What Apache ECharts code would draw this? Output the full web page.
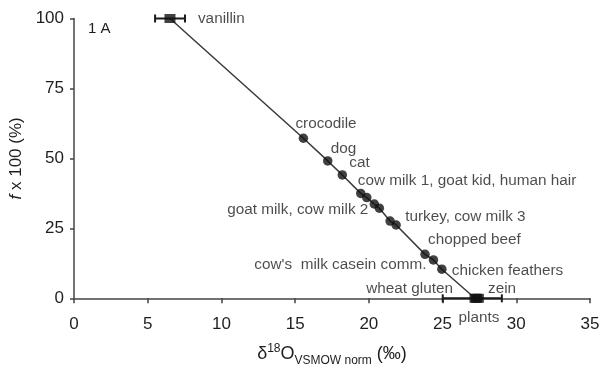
<!DOCTYPE html>
<html>
<head>
<meta charset="utf-8">
<script src="https://cdn.jsdelivr.net/npm/echarts@6/dist/echarts.min.js"></script>
<style>
html,body{margin:0;padding:0;background:#fff;}
#c{width:602px;height:366px;}
</style>
</head>
<body>
<div id="c"></div>
<script>
// ---- data ----
const sampleNames = ['crocodile','dog','cat','cow milk 1','goat kid/human hair','goat milk','cow milk 2','turkey','cow milk 3','chopped beef','casein comm.','chicken feathers'];
const sampleX = [15.56, 17.21, 18.20, 19.45, 19.86, 20.37, 20.71, 21.44, 21.85, 23.81, 24.38, 24.95];
const sampleY = [57.2, 49.1, 44.1, 37.5, 36.0, 33.7, 32.2, 27.6, 26.2, 15.7, 13.7, 10.4];
const endNames = ['vanillin','plants','plants','plants'];
const endX = [6.51, 27.2, 27.3, 27.43];
const endY = [100, 0, 0, 0];
const errX = [6.51, 27.3];
const errY = [100, 0];
const errLow = [5.50, 25.01];
const errHigh = [7.53, 29.02];
const xTickMin = 0, xTickMax = 35, xTickStep = 5;
const yTickMin = 0, yTickMax = 100, yTickStep = 25;
const labelTexts = ['vanillin','crocodile','dog','cat','cow milk 1, goat kid, human hair','goat milk, cow milk 2','turkey, cow milk 3','chopped beef',"cow's  milk casein comm.",'chicken feathers','wheat gluten','zein','plants'];
// anchor: [group, index]
const labelAnchors = [['e',0],['s',0],['s',1],['s',2],['s',3],['s',5],['s',8],['s',9],['s',10],['s',11],['e',1],['e',1],['e',1]];
// ---- style (pixel offsets from anchor point) ----
const labelStyle = [
  {dx:28, dy:0, align:'left'},
  {dx:-8, dy:-14, align:'left'},
  {dx:3, dy:-12, align:'left'},
  {dx:7, dy:-12, align:'left'},
  {dx:-3, dy:-13, align:'left'},
  {dx:-6, dy:6, align:'right'},
  {dx:9, dy:-8, align:'left'},
  {dx:3, dy:-15, align:'left'},
  {dx:-7, dy:5, align:'right'},
  {dx:10, dy:2, align:'left'},
  {dx:-22, dy:-10, align:'right'},
  {dx:13, dy:-10, align:'left'},
  {dx:4, dy:19, align:'center'}
];

const chart = echarts.init(document.getElementById('c'), null, {renderer:'canvas'});
const FONT = '"Liberation Sans", Arial, sans-serif';
const TXT = '#1e1e1e';

// line through all points in order
const linePts = [[endX[0], endY[0]]];
for (let i = 0; i < sampleX.length; i++) linePts.push([sampleX[i], sampleY[i]]);
linePts.push([endX[1], endY[1]]);

const labelData = labelTexts.map((t, i) => {
  const a = labelAnchors[i];
  const x = a[0] === 'e' ? endX[a[1]] : sampleX[a[1]];
  const y = a[0] === 'e' ? endY[a[1]] : sampleY[a[1]];
  const s = labelStyle[i];
  return {
    value: [x, y],
    label: {
      show: true, formatter: t, position: 'inside', align: s.align, verticalAlign: 'middle',
      offset: [s.dx, s.dy], color: TXT, fontSize: 15.3, fontFamily: FONT
    }
  };
});

const errData = errX.map((x, i) => [errLow[i], errHigh[i], errY[i]]);

chart.setOption({
  animation: false,
  grid: {left: 74, right: 12, top: 18.5, bottom: 67.7, containLabel: false, outerBoundsMode: 'none'},
  xAxis: {
    type: 'value', min: xTickMin, max: xTickMax, interval: xTickStep,
    name: '{m|δ}{sup|18}{m|O}{sub|VSMOW norm}{m| (‰)}',
    nameLocation: 'middle', nameGap: 44,
    nameTextStyle: {
      fontFamily: FONT, color: TXT,
      rich: {
        m: {fontSize: 18, fontFamily: FONT, color: TXT, lineHeight: 24, verticalAlign: 'middle'},
        sup: {fontSize: 12, fontFamily: FONT, color: TXT, lineHeight: 24, verticalAlign: 'top'},
        sub: {fontSize: 12, fontFamily: FONT, color: TXT, lineHeight: 24, verticalAlign: 'bottom'}
      }
    },
    axisLine: {show: true, onZero: false, lineStyle: {color: '#444', width: 1.5}},
    axisTick: {show: true, length: 5, lineStyle: {color: '#444', width: 1.5}},
    axisLabel: {fontSize: 17, fontFamily: FONT, color: TXT, margin: 18},
    splitLine: {show: false}
  },
  yAxis: {
    type: 'value', min: yTickMin, max: yTickMax, interval: yTickStep,
    name: '{i|f} x 100 (%)',
    nameLocation: 'middle', nameGap: 48, nameRotate: 90,
    nameTextStyle: {
      fontFamily: FONT, color: TXT, fontSize: 17,
      rich: {i: {fontStyle: 'italic', fontSize: 17, fontFamily: FONT, color: TXT}}
    },
    axisLine: {show: true, lineStyle: {color: '#444', width: 1.5}},
    axisTick: {show: true, length: 4, lineStyle: {color: '#444', width: 1.5}},
    axisLabel: {fontSize: 17, fontFamily: FONT, color: TXT, margin: 10},
    splitLine: {show: false}
  },
  graphic: [{
    type: 'text', left: 88, top: 21,
    style: {text: '1 A', font: '15px ' + FONT, fill: TXT}
  }],
  series: [
    {
      type: 'line', data: linePts, symbol: 'none', clip: false, z: 2,
      lineStyle: {color: '#3a3a3a', width: 1.5}
    },
    {
      type: 'custom', clip: false, z: 3, data: errData,
      renderItem: function (params, api) {
        const p1 = api.coord([api.value(0), api.value(2)]);
        const p2 = api.coord([api.value(1), api.value(2)]);
        const c = 4;
        const st = {stroke: '#1a1a1a', lineWidth: 2};
        return {type: 'group', children: [
          {type: 'line', shape: {x1: p1[0], y1: p1[1], x2: p2[0], y2: p2[1]}, style: st},
          {type: 'line', shape: {x1: p1[0], y1: p1[1]-c, x2: p1[0], y2: p1[1]+c}, style: st},
          {type: 'line', shape: {x1: p2[0], y1: p2[1]-c, x2: p2[0], y2: p2[1]+c}, style: st}
        ]};
      }
    },
    {
      type: 'scatter', clip: false, z: 4,
      data: endX.map((x, i) => [x, endY[i]]),
      symbol: 'rect', symbolSize: [11, 9],
      itemStyle: {color: '#111'}
    },
    {
      type: 'scatter', clip: false, z: 4,
      data: sampleX.map((x, i) => [x, sampleY[i]]),
      symbol: 'circle', symbolSize: 9.5,
      itemStyle: {color: '#111'}
    },
    {
      type: 'scatter', clip: false, z: 5, symbolSize: 0, silent: true,
      data: labelData
    }
  ]
});
</script>
</body>
</html>
